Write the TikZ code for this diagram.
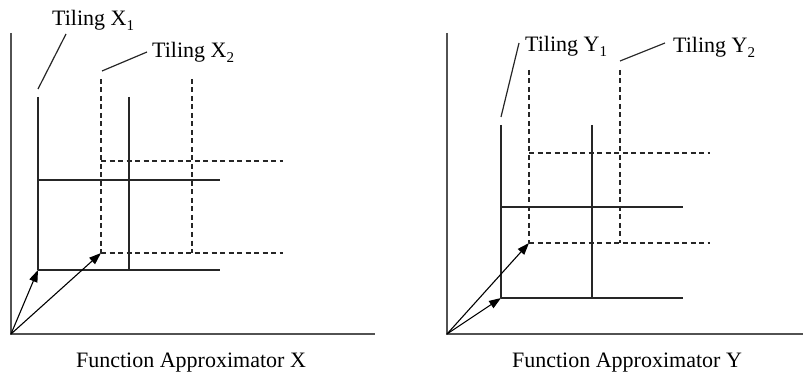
\documentclass[tikz,border=0pt]{standalone}
\usepackage{fontspec}
\setmainfont{Liberation Serif}
\usetikzlibrary{arrows.meta}
\newcommand\tsub[1]{\raisebox{-5pt}{\fontsize{15}{15}\selectfont #1}}
\begin{document}
\begin{tikzpicture}[x=1pt,y=-1pt,
  axisline/.style={draw=black!68, line width=2pt},
  tileline/.style={draw=black!85, line width=1.3pt},
  tiledash/.style={draw=black!85, line width=1.2pt, dash pattern=on 5pt off 3.5pt},
  leader/.style={draw=black!85, line width=1.2pt},
  vec/.style={draw=black, line width=1.1pt, -{Triangle[length=12pt,width=8.5pt]}},
  lbl/.style={inner sep=0pt, font=\fontsize{22}{24}\selectfont}]
\useasboundingbox (0,0) rectangle (803,374);

% ---------- Left panel ----------
\coordinate (oX) at (11,334);
\coordinate (axXt) at (11,33);
\coordinate (axXr) at (375,334);
\draw[axisline] (axXt) -- (oX) -- (axXr);

% Tiling X1 (solid)
\coordinate (x1c) at (38,270);
\draw[tileline] (38,97) -- (38,270);
\draw[tileline] (129,97) -- (129,270);
\draw[tileline] (38,180) -- (220,180);
\draw[tileline] (38,270) -- (220,270);

% Tiling X2 (dashed)
\coordinate (x2c) at (101,253);
\draw[tiledash] (101,79) -- (101,253);
\draw[tiledash] (192,79) -- (192,253);
\draw[tiledash] (101,161) -- (283,161);
\draw[tiledash] (101,253) -- (283,253);

\draw[vec] (oX) -- (x1c);
\draw[vec] (oX) -- (x2c);

\node[lbl, anchor=base west] (tx1) at (52,26) {Tiling X\tsub{1}};
\node[lbl, anchor=base west] (tx2) at (152,58) {Tiling X\tsub{2}};
\coordinate (lx1a) at (38,89);
\coordinate (lx1b) at (66,34);
\coordinate (lx2a) at (102,71);
\coordinate (lx2b) at (147,52);
\draw[leader] (lx1a) -- (lx1b);
\draw[leader] (lx2a) -- (lx2b);

\node[lbl, anchor=base] (capX) at (191,367) {Function Approximator X};

% ---------- Right panel ----------
\coordinate (oY) at (447,334);
\coordinate (axYt) at (447,33);
\coordinate (axYr) at (803,334);
\draw[axisline] (axYt) -- (oY) -- (axYr);

% Tiling Y1 (solid)
\coordinate (y1c) at (501,298);
\draw[tileline] (501,125) -- (501,298);
\draw[tileline] (592,125) -- (592,298);
\draw[tileline] (501,207) -- (683,207);
\draw[tileline] (501,298) -- (683,298);

% Tiling Y2 (dashed)
\coordinate (y2c) at (529,243);
\draw[tiledash] (529,70) -- (529,243);
\draw[tiledash] (620,70) -- (620,243);
\draw[tiledash] (529,153) -- (710,153);
\draw[tiledash] (529,243) -- (710,243);

\draw[vec] (oY) -- (y1c);
\draw[vec] (oY) -- (y2c);

\node[lbl, anchor=base west] (ty1) at (525,52) {Tiling Y\tsub{1}};
\node[lbl, anchor=base west] (ty2) at (673,53) {Tiling Y\tsub{2}};
\coordinate (ly1a) at (501,117);
\coordinate (ly1b) at (519,43);
\coordinate (ly2a) at (620,61);
\coordinate (ly2b) at (665,43);
\draw[leader] (ly1a) -- (ly1b);
\draw[leader] (ly2a) -- (ly2b);

\node[lbl, anchor=base] (capY) at (627,367) {Function Approximator Y};
\end{tikzpicture}
\end{document}
